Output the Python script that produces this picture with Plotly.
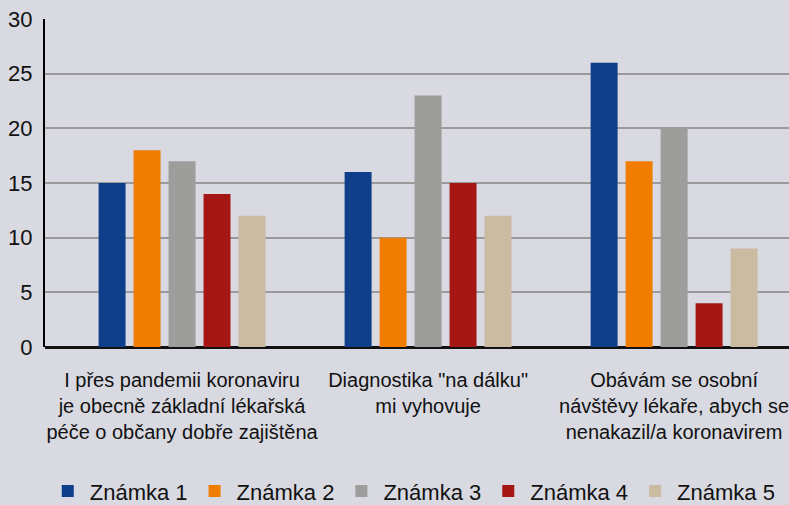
import plotly.graph_objects as go

categories = [
    "I přes pandemii koronaviru<br>je obecně základní lékařská<br>péče o občany dobře zajištěna",
    "Diagnostika \"na dálku\"<br>mi vyhovuje",
    "Obávám se osobní<br>návštěvy lékaře, abych se<br>nenakazil/a koronavirem",
]
series_names = ["Známka 1", "Známka 2", "Známka 3", "Známka 4", "Známka 5"]
znamka1 = [15, 16, 26]
znamka2 = [18, 10, 17]
znamka3 = [17, 23, 20]
znamka4 = [14, 15, 4]
znamka5 = [12, 12, 9]
y_ticks = [0, 5, 10, 15, 20, 25, 30]

values = [znamka1, znamka2, znamka3, znamka4, znamka5]
colors = ["#0f3e8a", "#f07d00", "#9d9d9b", "#a51715", "#cbbba0"]

x_pos = list(range(len(categories)))
fig = go.Figure()
for name, vals, col in zip(series_names, values, colors):
    fig.add_trace(go.Bar(x=x_pos, y=vals, name=name, marker=dict(color=col, line=dict(width=0))))

bg = "#d8d9e1"
fig.update_layout(
    barmode="group",
    bargap=0.289,
    bargroupgap=0.229,
    width=789, height=505,
    margin=dict(l=45, r=0, t=19, b=158, autoexpand=False),
    paper_bgcolor=bg, plot_bgcolor=bg,
    font=dict(family="Liberation Sans, Arial, sans-serif", color="#111111", size=20),
    legend=dict(orientation="h", x=0.495, xanchor="center", y=-0.44, yanchor="middle",
                font=dict(size=22), itemwidth=34, traceorder="normal", tracegroupgap=0),
    showlegend=True,
)
fig.update_xaxes(
    tickmode="array", tickvals=x_pos, ticktext=categories,
    range=[-0.557, 2.467], showgrid=False, ticks="", ticklabelstandoff=19,
    showline=False, zeroline=False, tickfont=dict(size=20), automargin=False,
    ticklabeloverflow="allow",
)
fig.update_yaxes(
    range=[0, 30], tickvals=y_ticks, showgrid=True, gridcolor="#9a9a9a", gridwidth=1.5,
    showline=True, linecolor="#000000", linewidth=2, zeroline=True, zerolinecolor="#111111",
    zerolinewidth=3, ticks="", tickfont=dict(size=22), ticklabelstandoff=6, automargin=False,
)
fig.write_html("out.html", config={"displayModeBar": False},
               post_script="document.body.style.margin='0';document.body.style.overflow='hidden';")
